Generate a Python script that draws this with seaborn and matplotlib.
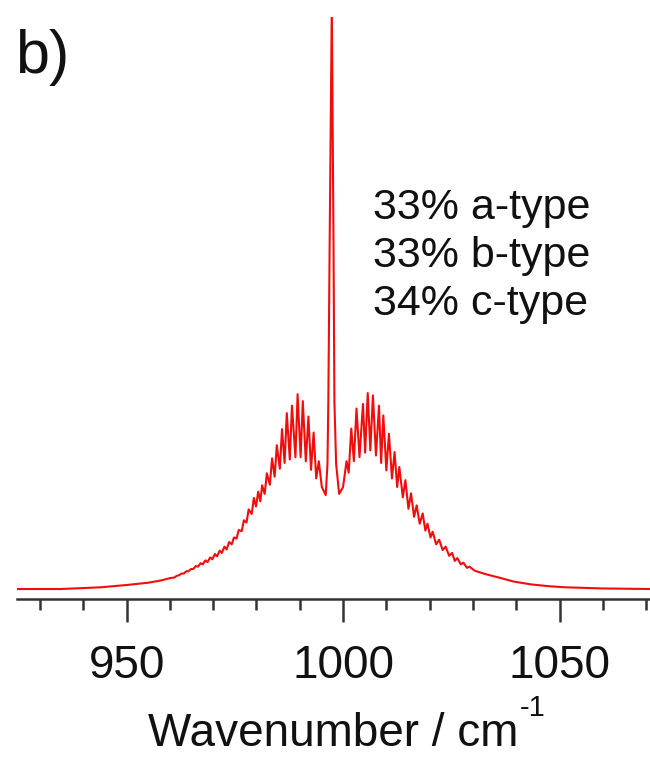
import matplotlib
matplotlib.use("Agg")
import matplotlib.pyplot as plt
from matplotlib.ticker import MultipleLocator
import numpy as np
import pandas as pd
import seaborn as sns

# Simulated rovibrational band contour (33% a / 33% b / 34% c hybrid)
# Vertices of the trace, listed segment by segment: wavenumber (cm^-1), intensity (arb.)
low_wing_wn = [924.6, 934.8, 944.0, 950.0, 955.0, 958.0, 960.0,
               961.0, 961.6, 962.1, 962.7, 963.2, 963.8, 964.3, 964.9,
               965.4, 966.0, 966.5, 967.1, 967.6, 968.2, 968.7, 969.3,
               969.8, 970.4, 970.9, 971.5, 972.0, 972.6, 973.1, 973.7]
low_wing_int = [0.002, 0.002, 0.005, 0.009, 0.013, 0.017, 0.021,
                0.022, 0.025, 0.026, 0.029, 0.029, 0.033, 0.033, 0.037,
                0.037, 0.042, 0.041, 0.047, 0.045, 0.052, 0.049, 0.057,
                0.054, 0.063, 0.059, 0.069, 0.065, 0.076, 0.071, 0.084]

p_branch_wn = [974.3, 974.8, 975.4, 975.9, 976.6, 977.1, 977.7, 978.2,
               978.9, 979.4, 979.9, 980.4, 980.9, 981.3, 981.9, 982.4,
               983.1, 983.6, 984.2, 984.7, 985.4, 985.9, 986.5, 987.0,
               987.7, 988.2, 989.0, 989.5, 990.2, 990.7, 991.4, 992.0,
               992.6, 993.2, 993.8, 994.4, 995.1]
p_branch_int = [0.080, 0.092, 0.090, 0.105, 0.103, 0.122, 0.118, 0.141,
                0.133, 0.161, 0.146, 0.172, 0.155, 0.183, 0.168, 0.204,
                0.184, 0.230, 0.198, 0.253, 0.212, 0.281, 0.222, 0.309,
                0.228, 0.322, 0.232, 0.342, 0.232, 0.330, 0.225, 0.303,
                0.210, 0.275, 0.195, 0.225, 0.180]

q_branch_wn = [996.0, 996.4, 996.6, 996.9, 997.4, 997.8, 998.0, 998.4, 999.1]
q_branch_int = [0.166, 0.220, 0.330, 0.600, 1.020, 0.600, 0.330, 0.220, 0.168]

r_branch_wn = [1000.0, 1000.8, 1001.3, 1001.9, 1002.5, 1003.1, 1003.8, 1004.6,
               1005.1, 1005.7, 1006.3, 1006.9, 1007.6, 1008.3, 1008.8, 1009.3,
               1010.0, 1010.6, 1011.3, 1011.9, 1012.5, 1013.0, 1013.8, 1014.4,
               1015.1, 1015.7, 1016.4, 1017.0, 1017.7, 1018.4, 1019.0, 1019.5,
               1020.2, 1020.7, 1021.5, 1022.2, 1023.0, 1023.7, 1024.5, 1025.2,
               1025.8, 1026.4, 1027.2, 1027.8, 1028.6, 1029.2]
r_branch_int = [0.180, 0.225, 0.205, 0.282, 0.225, 0.317, 0.232, 0.325,
                0.240, 0.344, 0.244, 0.340, 0.235, 0.322, 0.222, 0.305,
                0.209, 0.273, 0.195, 0.241, 0.180, 0.215, 0.162, 0.192,
                0.142, 0.169, 0.128, 0.148, 0.116, 0.134, 0.104, 0.116,
                0.092, 0.102, 0.080, 0.088, 0.070, 0.076, 0.060, 0.065,
                0.051, 0.056, 0.045, 0.048, 0.039, 0.041]

high_wing_wn = [1030.4, 1032.9, 1036.0, 1039.4, 1043.5, 1047.4, 1051.3, 1060.0, 1070.9]
high_wing_int = [0.034, 0.028, 0.022, 0.015, 0.010, 0.007, 0.005, 0.003, 0.002]

composition = ["33% a-type", "33% b-type", "34% c-type"]
x_ticks_major = [950, 1000, 1050]

spectrum = pd.DataFrame({
    "wavenumber": low_wing_wn + p_branch_wn + q_branch_wn + r_branch_wn + high_wing_wn,
    "intensity": low_wing_int + p_branch_int + q_branch_int + r_branch_int + high_wing_int,
})

sns.set_theme(style="ticks")
plt.rcParams["font.family"] = ["Liberation Sans", "DejaVu Sans"]
plt.rcParams["axes.unicode_minus"] = False

fig = plt.figure(figsize=(6.5, 7.67), dpi=100)
ax = fig.add_axes([0.02554, 0.2186, 0.9745, 0.759])

sns.lineplot(data=spectrum, x="wavenumber", y="intensity", sort=False,
             estimator=None, color="#f20d0d", linewidth=1.5, ax=ax)

ax.set_xlim(924.6, 1070.9)
ax.set_ylim(-0.016, 1.0)

for side in ("left", "top", "right"):
    ax.spines[side].set_visible(False)
ax.spines["bottom"].set_linewidth(1.8)
ax.spines["bottom"].set_color("#333333")

ax.set_yticks([])
ax.set_ylabel("")
ax.set_xticks(x_ticks_major)
ax.xaxis.set_minor_locator(MultipleLocator(10))
ax.tick_params(axis="x", which="major", direction="out", length=16.5, width=1.8,
               color="#333333", labelsize=33, pad=16, labelcolor="#111111")
ax.tick_params(axis="x", which="minor", direction="out", length=8, width=1.8,
               color="#333333")

# axis title with a plain-hyphen superscript unit
xlab = ax.set_xlabel("Wavenumber / cm", fontsize=33, labelpad=17, color="#111111")
ax.annotate("-1", xy=(1.0, 0.78), xycoords=xlab, xytext=(1, 0),
            textcoords="offset points", fontsize=21, va="bottom", ha="left",
            color="#111111")

for label, y in zip(composition, [0.6531, 0.5707, 0.4882]):
    ax.text(0.5622, y, label, transform=ax.transAxes, fontsize=31,
            va="baseline", ha="left", color="#111111")

fig.text(0.023, 0.905, "b)", fontsize=44, va="baseline", ha="left", color="#111111")

fig.savefig("out.png", dpi=100)
